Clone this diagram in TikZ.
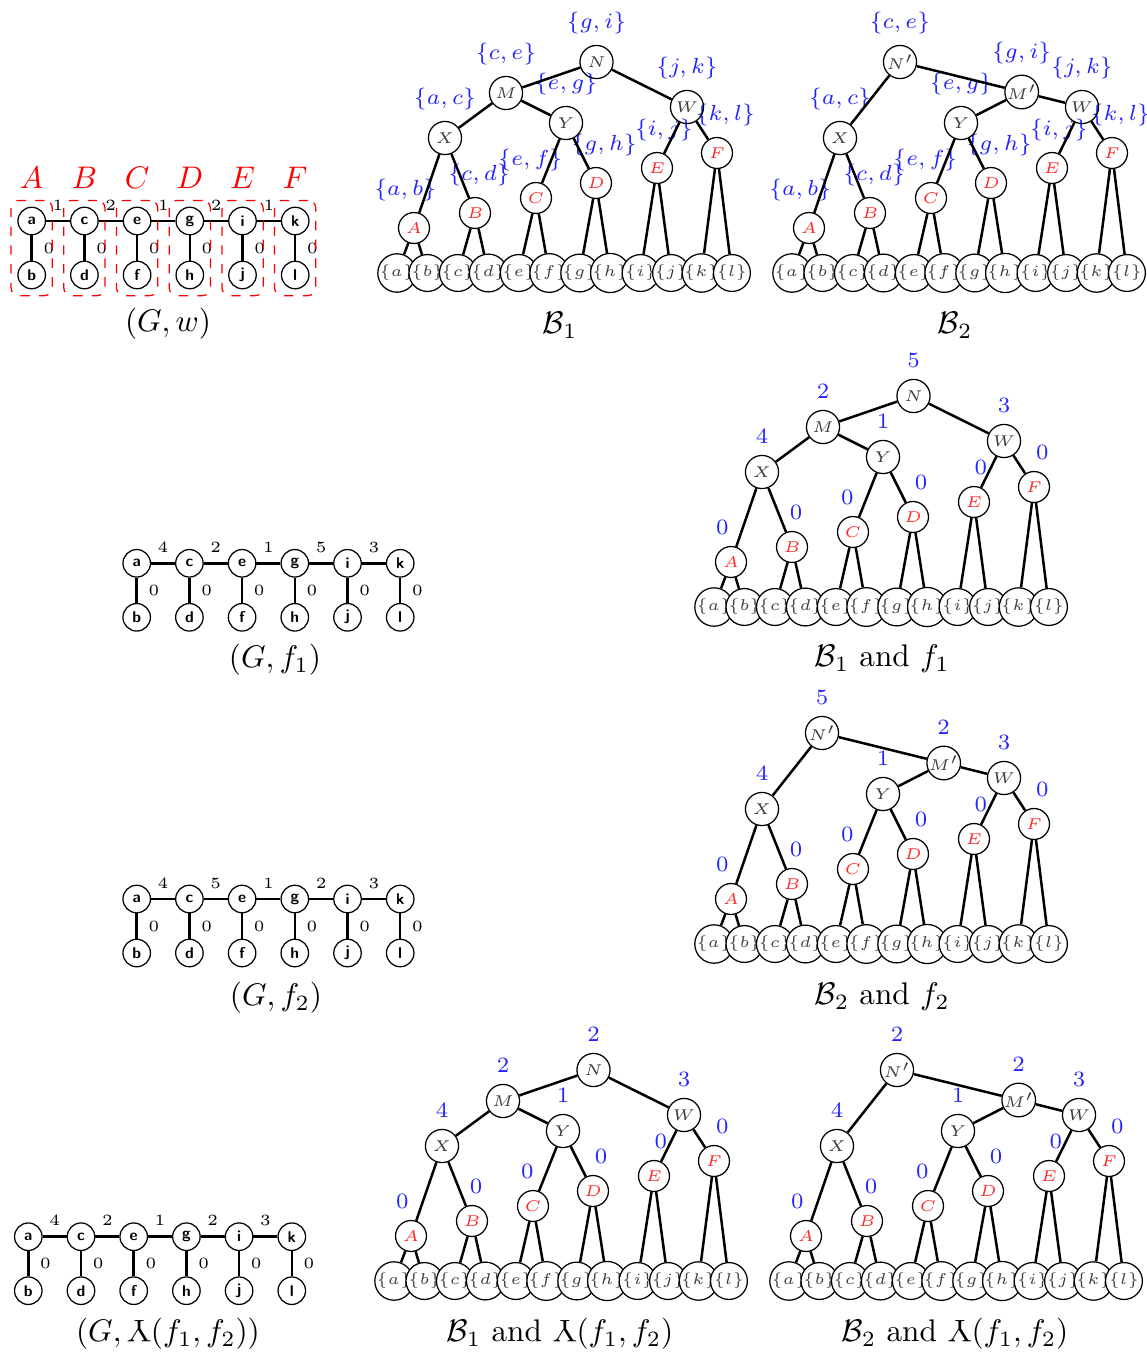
\documentclass[tikz,border=0pt]{standalone}
\usepackage{xcolor}
\usepackage{amsmath}
\usepackage{amssymb}
\usepackage{graphicx}
\usepackage{tikz}
\usetikzlibrary{positioning, fit, calc, backgrounds}
\definecolor{lblblue}{RGB}{35, 35, 255}
\definecolor{compred}{RGB}{255, 40, 40}
\definecolor{namegray}{RGB}{60, 60, 60}

\newcommand{\infmap}{\mathord{\rotatebox[origin=c]{180}{$\mathrm{Y}$}}}
\newcommand{\pairset}[2]{$\{#1,#2\}$}
\newcommand{\zeroval}[2]{$0$}

% leaves, components and X, Y, W (shared by both hierarchies)
\newcommand{\lowertree}[4]{%
  \foreach \lf [count=\n from 0] in {a,b,c,d,e,f,g,h,i,j,k,l}
    \node[leaf] (\lf) at (30.45*\n, 0) {$\{\lf\}$};
  \foreach \cp/\x/\h/\p/\q/\dx in {A/17/45/a/b/-2.8pt, B/78/60/c/d/1.3pt, C/139/75/e/f/-1.8pt,
                                  D/199/90/g/h/2.6pt, E/260/105/i/j/2.2pt, F/320/120/k/l/2.7pt} {
    \node[comp, label={[lbl, xshift=\dx]above:#1{\p}{\q}}] (\cp) at (\x, -\h) {$\cp$};
    \begin{pgfonlayer}{background}
      \draw[tedge] (\cp) -- (\p);
      \draw[tedge] (\cp) -- (\q);
    \end{pgfonlayer}
  }
  \node[hnode, label={[lbl]above:#2}] (X) at (48, -135) {$X$};
  \node[hnode, label={[lbl]above:#3}] (Y) at (169, -150) {$Y$};
  \node[hnode, label={[lbl]above:#4}] (W) at (290, -166) {$W$};
  \draw[tedge] (X) -- (A) (X) -- (B) (Y) -- (C) (Y) -- (D) (W) -- (E) (W) -- (F);
}

% path a-c-e-g-i-k with pendant vertices; #1..#5: weights of the path edges
\newcommand{\pathgraph}[5]{%
  \foreach \u/\v [count=\n from 0] in {a/b, c/d, e/f, g/h, i/j, k/l} {
    \node[vtx] (\u) at (52.7*\n, 0) {\u};
    \node[vtx] (\v) at (52.7*\n, 54) {\v};
    \draw[tedge] (\u) -- node[wgt, right=3.4pt] (z\u) {$0$} (\v);
  }
  \foreach \u/\v/\w in {a/c/#1, c/e/#2, e/g/#3, g/i/#4, i/k/#5}
    \draw[tedge] (\u) -- node[wgt, above=3.1pt] (w\u) {$\w$} (\v);
}

\begin{document}
\begin{tikzpicture}[
  x=0.32pt, y=-0.32pt,
  label distance=3.3pt,
  leaf/.style={circle, draw, thin, fill=white, minimum size=11.8pt, inner sep=0pt,
               font=\tiny, text=namegray},
  hnode/.style={circle, draw, thin, minimum size=10.6pt, inner sep=0pt,
               font=\tiny, text=namegray},
  comp/.style={circle, draw, thin, minimum size=9.9pt, inner sep=0pt,
               font=\tiny, text=compred},
  vtx/.style={circle, draw, thin, minimum size=8.8pt, inner sep=0pt,
              font=\tiny\sffamily\bfseries},
  grp/.style={draw=red, dashed, thin, rounded corners=2.5pt, inner sep=2pt},
  tedge/.style={line width=0.8pt},
  lbl/.style={font=\scriptsize, text=lblblue, inner sep=0pt},
  wgt/.style={font=\tiny, inner sep=0pt},
  bigred/.style={font=\normalsize, text=red, inner sep=0pt},
  figcap/.style={font=\normalsize, inner sep=0pt},
]
  \useasboundingbox (0,0) rectangle (1146,1354);

  % (G,w) and its components
  \begin{scope}[shift={(31.7,221)}, name prefix=g0-]
    \pathgraph{1}{2}{1}{2}{1}
    \foreach \u/\v/\g in {a/b/A, c/d/B, e/f/C, g/h/D, i/j/E, k/l/F}
      \node[grp, fit=(\u)(\v), label={[bigred]above:$\g$}] (box\g) {};
  \end{scope}
  \node[figcap] (capGw) at (168,324) {$(G,w)$};

  % hierarchy B1
  \begin{scope}[shift={(397,273)}, name prefix=ta-]
    \lowertree{\pairset}{\pairset{a}{c}}{\pairset{e}{g}}{\pairset{j}{k}}
    \node[hnode, label={[lbl]above:\pairset{c}{e}}] (M) at (109,-180) {$M$};
    \node[hnode, label={[lbl]above:\pairset{g}{i}}] (N) at (199.5,-211) {$N$};
    \draw[tedge] (N) -- (M) (N) -- (W) (M) -- (X) (M) -- (Y);
  \end{scope}
  \node[figcap] (capB1) at (560,325) {$\mathcal{B}_1$};

  % hierarchy B2
  \begin{scope}[shift={(792,273)}, name prefix=tb-]
    \lowertree{\pairset}{\pairset{a}{c}}{\pairset{e}{g}}{\pairset{j}{k}}
    \node[hnode, label={[lbl]above:\pairset{c}{e}}] (N) at (108,-211) {$N'$};
    \node[hnode, label={[lbl]above:\pairset{g}{i}}] (M) at (229.7,-181) {$M'$};
    \draw[tedge] (N) -- (X) (N) -- (M) (M) -- (Y) (M) -- (W);
  \end{scope}
  \node[figcap] (capB2) at (955,325) {$\mathcal{B}_2$};

  % (G,f1) and B1 with f1
  \begin{scope}[shift={(136.7,563.3)}, name prefix=g1-]
    \pathgraph{4}{2}{1}{5}{3}
  \end{scope}
  \node[figcap] (capGf1) at (275,660) {$(G,f_1)$};
  \begin{scope}[shift={(714,607)}, name prefix=tc-]
    \lowertree{\zeroval}{$4$}{$1$}{$3$}
    \node[hnode, label={[lbl]above:$2$}] (M) at (109,-180) {$M$};
    \node[hnode, label={[lbl]above:$5$}] (N) at (199.5,-211) {$N$};
    \draw[tedge] (N) -- (M) (N) -- (W) (M) -- (X) (M) -- (Y);
  \end{scope}
  \node[figcap] (capBf1) at (882,659) {$\mathcal{B}_1$ and $f_1$};

  % (G,f2) and B2 with f2
  \begin{scope}[shift={(136.7,899)}, name prefix=g2-]
    \pathgraph{4}{5}{1}{2}{3}
  \end{scope}
  \node[figcap] (capGf2) at (276,998) {$(G,f_2)$};
  \begin{scope}[shift={(714,944)}, name prefix=td-]
    \lowertree{\zeroval}{$4$}{$1$}{$3$}
    \node[hnode, label={[lbl]above:$5$}] (N) at (108,-211) {$N'$};
    \node[hnode, label={[lbl]above:$2$}] (M) at (229.7,-181) {$M'$};
    \draw[tedge] (N) -- (X) (N) -- (M) (M) -- (Y) (M) -- (W);
  \end{scope}
  \node[figcap] (capBf2) at (882,997) {$\mathcal{B}_2$ and $f_2$};

  % infimum of f1 and f2 on the graph and on both hierarchies
  \begin{scope}[shift={(28.3,1236.7)}, name prefix=g3-]
    \pathgraph{4}{2}{1}{2}{3}
  \end{scope}
  \node[figcap] (capGinf) at (168,1334) {$(G,\infmap(f_1,f_2))$};
  \begin{scope}[shift={(394,1281)}, name prefix=te-]
    \lowertree{\zeroval}{$4$}{$1$}{$3$}
    \node[hnode, label={[lbl]above:$2$}] (M) at (109,-180) {$M$};
    \node[hnode, label={[lbl]above:$2$}] (N) at (199.5,-211) {$N$};
    \draw[tedge] (N) -- (M) (N) -- (W) (M) -- (X) (M) -- (Y);
  \end{scope}
  \node[figcap] (capBinf1) at (560,1334) {$\mathcal{B}_1$ and $\infmap(f_1,f_2)$};
  \begin{scope}[shift={(789,1281)}, name prefix=tf-]
    \lowertree{\zeroval}{$4$}{$1$}{$3$}
    \node[hnode, label={[lbl]above:$2$}] (N) at (108,-211) {$N'$};
    \node[hnode, label={[lbl]above:$2$}] (M) at (229.7,-181) {$M'$};
    \draw[tedge] (N) -- (X) (N) -- (M) (M) -- (Y) (M) -- (W);
  \end{scope}
  \node[figcap] (capBinf2) at (955,1334) {$\mathcal{B}_2$ and $\infmap(f_1,f_2)$};
\end{tikzpicture}
\end{document}
